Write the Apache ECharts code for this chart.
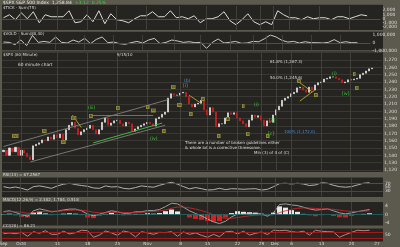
<!DOCTYPE html>
<html><head><meta charset="utf-8">
<script src="https://cdn.jsdelivr.net/npm/echarts@6/dist/echarts.min.js"></script>
<style>html,body{margin:0;padding:0;background:#5c594e;overflow:hidden}#c{width:400px;height:247px}</style>
</head><body><div id="c"></div>
<script>
// ---- data ----
const firstOpen = 1145;
const closes = [
1147,1140,1150,1145,1151,1140,1147,1143,1138,1134,
1153,1155,1157,1161,1160,1165,1162,1168,1164,1169,
1161,1175,1181,1185,1177,1168,1172,1175,1177,1181,
1175,1169,1175,1185,1191,1181,1184,1187,1188,1183,
1180,1185,1183,1173,1176,1179,1181,1183,1185,1183,
1180,1190,1192,1196,1199,1218,1224,1222,1222,1225,
1226,1220,1210,1206,1210,1211,1215,1202,1195,1205,
1199,1179,1183,1183,1191,1198,1196,1198,1191,1187,
1183,1179,1188,1195,1192,1194,1188,1180,1187,1185,
1195,1202,1207,1215,1218,1220,1224,1226,1232,1233,
1229,1226,1233,1229,1236,1239,1240,1244,1245,1247,
1247,1245,1243,1239,1240,1243,1243,1244,1245,1250,
1252,1255,1258,1259];
const breadth = [
235,940,-235,1400,0,1650,-940,940,470,470,
470,1880,-940,-700,940,-700,1880,-1175,1175,-235,
-470,-940,0,700,700,1650,470,470,1880,235,
470,0,700,-940,0,0,470,1650,-470,-1400,
-235,1175,-700,-1400,-700,-1400,1880,940,235,235,
-235,470,0,235,235,-235,470,470,0,470,
940,700];
const flowM = [
0.12,0.08,-0.2,0.37,-0.33,0.95,0.08,0.2,0.08,0.75,
0.08,0,0.37,0.12,0.58,-0.08,0.45,0.75,0.04,0.12,
-0.08,-0.16,0.04,0.2,0,0.37,0.58,-0.08,0.08,0.37,
0.25,0.08,0.16,0.04,0.08,-0.67,0.08,0.5,0,0.08,
0.2,-0.04,0,0.2,0.16,0.54,1.0,0.75,0.33,0.12,
0.2,0,0.16,0.04,0.04,0,0.08,0.42,0.04,0.16,
0.04,0.04];
const rsi = [
53,46,51,44,35,53,57,51,44,57,
66,71,64,59,55,46,44,57,51,53,
44,41,48,57,53,50,60,69,76,66,
53,41,48,42,35,37,44,37,42,41,
39,41,42,35,39,53,69,71,67,71,
67,59,62,74,71,60,53,50,53,62,
71,74];
const macd = [
1.4,1.8,1.0,0,-0.8,1.8,2.7,2.1,1.3,1.6,
2.2,2.6,2.6,1.8,0.3,-0.6,0.2,1.0,1.8,1.3,
0.6,0.6,1.3,1.3,1.9,1.9,2.4,3.8,5.4,5.1,
3.5,1.8,0.5,-0.6,-2.1,-3.5,-4.3,-3.2,-1.1,0.2,
0.3,0.5,0.6,0.2,-0.8,0.8,4.8,5.1,4.6,4.3,
3.5,2.7,2.1,2.4,2.7,1.8,0.8,0.3,0.8,1.4,
1.9,2.4];
const signal = [
1.2,1.4,1.4,1.1,0.6,0.8,1.3,1.6,1.6,1.6,
1.8,2.0,2.2,2.1,1.7,1.1,0.8,0.8,1.0,1.1,
1.0,0.9,1.0,1.1,1.3,1.5,1.7,2.2,3.0,3.6,
3.6,3.2,2.6,1.9,1.0,-0.1,-1.2,-1.8,-1.8,-1.4,
-1.0,-0.6,-0.3,-0.2,-0.3,-0.1,0.9,1.8,2.5,3.0,
3.2,3.1,2.9,2.7,2.7,2.5,2.1,1.7,1.5,1.5,
1.6,1.8];
const stoch = [
62,67,62,71,43,76,64,83,57,57,
79,60,69,86,83,36,52,81,67,50,
81,71,38,76,67,57,71,69,76,43,
74,57,67,50,36,57,40,74,79,60,
79,52,64,74,55,86,83,86,76,71,
79,52,86,79,76,74,36,55,71,86,
83,86];
const tickBars   = [0,5.5,7,18,28,38,48,59,68,78,86,90.5,96,106,116,124.5];
const tickLabels = ['Sep','Oct','4','11','18','25','Nov','8','15','22','29','Dec','6','13','20','27'];
const weekBars = [5.5,18,28,38,48,59,68,78,86,90.5,96,106,116];
const fibLevels = [1267.3, 1245.6, 1172.0];

// ---- build ----
const BARS = 127;
const cats = Array.from({length: BARS}, (_, i) => String(i));
const candles = closes.map((c, i) => {
  const o = i === 0 ? firstOpen : closes[i - 1];
  return [o, c, Math.min(o, c), Math.max(o, c)];
});
const step2 = arr => arr.map((v, i) => [i * 2, v]);
const hist = macd.map((v, i) => [i * 2, +(v - signal[i]).toFixed(2)]);

const PANEL = '#252420', OUT = '#5c594e', GRID = '#48473f', TXT = '#dcdcdc';
const FONT = 'DejaVu Sans';
const L = 2, R = 17;
const grids = [
  {left: L, right: R, top: 6, height: 25.5},
  {left: L, right: R, top: 35, height: 16},
  {left: L, right: R, top: 52.67, height: 117.33},
  {left: L, right: R, top: 177.8, height: 18.8},
  {left: L, right: R, top: 202, height: 23},
  {left: L, right: R, top: 228.3, height: 14}
];
const vx = gi => ({type: 'value', gridIndex: gi, min: -0.5, max: BARS - 0.5,
  axisLine: {show: false}, axisTick: {show: false}, axisLabel: {show: false}, splitLine: {show: false}});
const yl = {fontSize: 4.5, color: TXT, fontFamily: FONT, margin: 2};
const ya = (gi, o) => Object.assign({gridIndex: gi, position: 'right', scale: false,
  axisLine: {show: false}, axisTick: {show: false},
  splitLine: {show: true, lineStyle: {color: GRID, width: 0.6}},
  axisLabel: Object.assign({}, yl)}, o);

const vlines = gi => ({type: 'line', xAxisIndex: gi, yAxisIndex: gi, data: [], z: 1, silent: true,
  markLine: {symbol: 'none', silent: true, label: {show: false}, animation: false,
    lineStyle: {color: GRID, width: 0.8, type: 'solid'},
    data: weekBars.map(b => ({xAxis: b}))}});

const hline = (v, c, w) => ({yAxis: v, lineStyle: {color: c, width: w || 1, type: 'solid'}});
const seg = (b1, p1, b2, p2, c, w) => [{coord: [b1, p1], lineStyle: {color: c, width: w || 0.8, type: 'solid'}}, {coord: [b2, p2]}];

const option = {
  backgroundColor: OUT,
  animation: false,
  grid: grids,
  xAxis: [vx(0), vx(1),
    {type: 'category', gridIndex: 2, data: cats, boundaryGap: true,
      axisLine: {show: false}, axisTick: {show: false}, axisLabel: {show: false}, splitLine: {show: false}},
    vx(3), vx(4), vx(5)],
  yAxis: [
    ya(0, {min: -3000, max: 3000, interval: 1000, splitLine: {show: false},
      axisLabel: Object.assign({}, yl, {showMinLabel: false, showMaxLabel: false,
        formatter: v => v.toLocaleString('en-US')})}),
    ya(1, {min: -1, max: 1, interval: 1, splitLine: {show: false},
      axisLabel: Object.assign({}, yl, {formatter: v => (v * 1e6).toLocaleString('en-US')})}),
    ya(2, {min: 1120, max: 1280, interval: 10,
      axisLabel: Object.assign({}, yl, {showMaxLabel: false, formatter: v => v.toLocaleString('en-US')})}),
    ya(3, {min: 0, max: 100, interval: 10, splitLine: {show: false},
      axisLabel: Object.assign({}, yl, {formatter: v => (v === 30 || v === 50 || v === 70) ? String(v) : ''})}),
    ya(4, {min: -5, max: 6, interval: 1, splitLine: {show: false},
      axisLabel: Object.assign({}, yl, {formatter: v => (v === 4 || v === 0 || v === -4) ? String(v) : ''})}),
    ya(5, {min: 0, max: 100, interval: 10, splitLine: {show: false},
      axisLabel: Object.assign({}, yl, {formatter: v => v === 50 ? '50' : ''})})
  ],
  series: [
    vlines(0), vlines(1), vlines(2), vlines(3), vlines(4), vlines(5),
    {type: 'line', xAxisIndex: 0, yAxisIndex: 0, data: step2(breadth), symbol: 'none',
      lineStyle: {color: '#dadada', width: 1}, z: 3,
      markLine: {symbol: 'none', silent: true, label: {show: false}, data: [hline(0, '#c81a1a', 1)]}},
    {type: 'line', xAxisIndex: 1, yAxisIndex: 1, data: step2(flowM), symbol: 'none',
      lineStyle: {color: '#dadada', width: 0.9}, z: 3,
      markLine: {symbol: 'none', silent: true, label: {show: false}, data: [hline(0, '#c81a1a', 1)]}},
    {type: 'candlestick', xAxisIndex: 2, yAxisIndex: 2, data: candles, barWidth: 1.6,
      itemStyle: {color: '#e6e6e6', color0: '#d42020', borderColor: '#e6e6e6', borderColor0: '#d42020', borderWidth: 0.7},
      markLine: {symbol: 'none', silent: true, label: {show: false}, animation: false,
        data: [
          seg(0, 1152, 55, 1216, '#8a8a8a'),
          seg(9, 1131, 54, 1181, '#8a8a8a'),
          seg(28.8, 1195, 49.5, 1195, '#3db83d'),
          seg(29.8, 1157, 53.2, 1184, '#3db83d', 1),
          seg(22.8, 1195, 26, 1178, '#c8b830'),
          seg(62, 1222, 65.5, 1211, '#c8b830'),
          seg(98, 1242, 103, 1227, '#c8b830'),
          seg(98.7, 1214, 104, 1229, '#c8b830'),
          seg(89, fibLevels[0], 126.5, fibLevels[0], '#56688a', 0.8),
          seg(89, fibLevels[1], 126.5, fibLevels[1], '#56688a', 0.8),
          seg(91, fibLevels[2], 126.5, fibLevels[2], '#2f5f9a', 1)
        ]}},
    {type: 'line', xAxisIndex: 3, yAxisIndex: 3, data: step2(rsi), symbol: 'none',
      lineStyle: {color: '#d4d4d4', width: 0.8}, z: 3,
      markLine: {symbol: 'none', silent: true, label: {show: false},
        data: [hline(70, '#c81a1a', 1), hline(30, '#c81a1a', 0.8), hline(26, '#1f5a5a', 1)]}},
    {type: 'bar', xAxisIndex: 4, yAxisIndex: 4, data: hist, barWidth: 5, z: 2,
      itemStyle: {color: p => p.value[1] >= 0 ? '#e8e8e8' : '#d42020'}},
    {type: 'line', xAxisIndex: 4, yAxisIndex: 4, data: step2(macd), symbol: 'none',
      lineStyle: {color: '#bdbdbd', width: 0.8}, z: 3,
      markLine: {symbol: 'none', silent: true, label: {show: false}, data: [hline(0, '#1f6a6a', 0.8)]}},
    {type: 'line', xAxisIndex: 4, yAxisIndex: 4, data: step2(signal), symbol: 'none',
      lineStyle: {color: '#d42a2a', width: 0.8}, z: 3},
    {type: 'line', xAxisIndex: 5, yAxisIndex: 5, data: step2(stoch), symbol: 'none',
      lineStyle: {color: '#d99a9a', width: 0.8}, z: 3,
      markLine: {symbol: 'none', silent: true, label: {show: false},
        data: [hline(70, '#b01818', 0.9), hline(30, '#b01818', 0.9)]}}
  ]
};

const chart = echarts.init(document.getElementById('c'), null, {renderer: 'canvas'});
chart.setOption(option);

// panel backgrounds and annotation text
const rect = (y, h) => ({type: 'rect', z: -100, silent: true, shape: {x: L, y: y, width: 381, height: h}, style: {fill: PANEL}});
const t = (x, y, s, fill, fs, extra) => ({type: 'text', z: 50, silent: true, x: x, y: y,
  style: Object.assign({text: s, fill: fill || TXT, fontSize: fs || 4.5, fontFamily: FONT}, extra || {})});
const box = (x, y, s, bg) => t(x, y, s, '#151515', 3.6, {backgroundColor: bg || '#8c883a', padding: [0, 0.8]});

const els = [
  rect(4.8, 25.2), rect(31.8, 18.4), rect(51.5, 120.5), rect(177.5, 19.5), rect(202, 23.5), rect(228.5, 13),
  t(3, 0.6, '$SPX S&P 500 Index  1,258.84', '#e8e8e8', 4.5),
  t(75, 0.6, '+3.12  0.25%', '#38d838', 4.5),
  t(3, 5.8, '$TICK - Sum(75)', TXT, 4),
  t(3, 32.3, '$VOLD - Sum(80,40)', TXT, 4),
  t(3, 52.5, '$SPX (60 Minute)', TXT, 4),
  t(117, 52.5, '9/15/10', TXT, 4),
  t(18, 63, '60 minute chart', TXT, 4.3),
  t(3, 173.2, 'RSI(14) = 67.2567', TXT, 4),
  t(3, 197.6, 'MACD(12,26,9) = 2.302, 1.784, 0.518', TXT, 4),
  t(3, 224, 'CCI(20) = 86.21', TXT, 4),
  t(185, 141, 'There are a number of broken guidelines either', TXT, 4),
  t(185, 145.5, '& whole lot is a corrective threesome.', TXT, 4),
  t(254, 150.5, 'Min (3) of 4 of (C)', TXT, 4),
  t(270, 59.5, '61.8% (1,267.3)', TXT, 4),
  t(270, 75.5, '50.0% (1,245.6)', TXT, 4),
  t(284, 130, '100% (1,172.0)', '#4a8ad0', 4),
  box(12, 134, '(v)'), box(42, 129, 'iii'), box(61, 140, 'iv'), box(71, 116, '(i)'),
  box(89, 114, 'b'), t(88, 105, '(iii)', '#3ad03a', 4.5), box(116, 106, 'a'), box(146, 105, 'c'),
  box(151, 108.5, 'iv'), box(162, 129, 'v'), t(150, 136, '(iv)', '#3ad03a', 4.5),
  box(171, 85, 'iii'), t(183, 83, '[i]', '#3ad03a', 4.5), t(184, 78.5, '(b)', '#4a8ad0', 4.5),
  box(177, 103, 'iv'), box(189, 112, 'v'), box(201, 97, 'a'), box(226, 117, 'b'), box(217, 134, 'c'),
  box(242, 104, 'i'), t(254, 102, '(i)', '#3ad03a', 4.5), box(246, 132, 'ii'), box(266, 134, 'c'),
  t(269, 118, '[ii]', '#3ad03a', 4.5), t(268, 131, '[c]', '#3ad03a', 4.5),
  box(297, 79, 'a'), box(314, 93, 'e'), t(332, 71, '(i)', '#3ad03a', 4.5), t(342, 91, '[iv]', '#3ad03a', 4.5),
  box(353, 72, 'i'), box(355, 86, 'ii')
];
tickBars.forEach((b, i) => {
  const px = chart.convertToPixel({xAxisIndex: 5}, b);
  els.push(t(px, 242.2, tickLabels[i], TXT, 4.3, {align: 'center'}));
});
chart.setOption({graphic: {elements: els}});
</script>
</body></html>
